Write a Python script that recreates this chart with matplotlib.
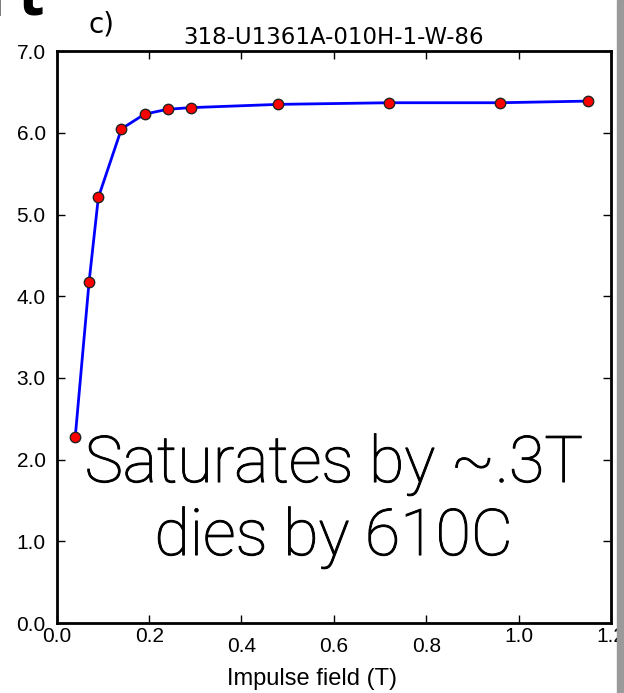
import matplotlib
matplotlib.use("Agg")
import matplotlib.pyplot as plt
import matplotlib.patheffects as pe
from matplotlib.patches import Rectangle

# impulse field (T) and remanence values
field = [0.04, 0.07, 0.09, 0.14, 0.19, 0.24, 0.29, 0.48, 0.72, 0.96, 1.15]
moment = [2.28, 4.18, 5.21, 6.05, 6.23, 6.29, 6.31, 6.35, 6.37, 6.37, 6.39]
x_ticks = [0.0, 0.2, 0.4, 0.6, 0.8, 1.0, 1.2]
y_ticks = [0.0, 1.0, 2.0, 3.0, 4.0, 5.0, 6.0, 7.0]

fig = plt.figure(figsize=(6.24, 6.93), dpi=100)
ax = fig.add_axes([0.091, 0.101, 0.888, 0.825])

ax.plot(field, moment, color='blue', lw=2, marker='o', ms=7.5,
        mfc='red', mec='#222222', mew=1, zorder=3)

ax.set_xlim(0, 1.2)
ax.set_ylim(0, 7)
ax.set_xticks(x_ticks)
ax.set_yticks(y_ticks)
ax.set_xticklabels(['%.1f' % v for v in x_ticks], family='Liberation Sans', fontsize=15)
ax.set_yticklabels(['%.1f' % v for v in y_ticks], family='Liberation Sans', fontsize=15)
ax.tick_params(direction='in', top=True, right=True, length=6, width=1)
# staggered labels like the original
pads = [3, 3, 10, 10, 10, 3, 3]
for tk, p in zip(ax.xaxis.get_major_ticks(), pads):
    tk.set_pad(p)
ax.tick_params(axis='y', pad=8)
for s in ax.spines.values():
    s.set_linewidth(2)

ax.set_xlabel('Impulse field (T)', family='Liberation Sans', fontsize=17)
ax.xaxis.set_label_coords(0.46, -0.078)
ax.set_title('318-U1361A-010H-1-W-86', fontsize=16.5, pad=5)

fig.text(0.163, 0.965, 'c)', fontsize=20, ha='center', va='center')
# pieces of the slide heading, cut by the top edge
fig.text(0.007, 0.977, 'n', fontsize=44, family='Open Sans', fontweight='bold',
         ha='right', va='baseline')
fig.text(0.029, 0.977, 't', fontsize=44, family='Open Sans', fontweight='bold',
         ha='left', va='baseline')

big = dict(ha='center', va='baseline', fontsize=46.5, family='Roboto',
           fontweight='light', zorder=4,
           path_effects=[pe.withStroke(linewidth=0.7, foreground='black')])
ax.text(0.6, 1.726, 'Saturates by ~.3T', **big)
ax.text(0.6, 0.832, 'dies by 610C', **big)

# grey strip on the right edge of the slide
fig.patches.append(Rectangle((0.988, 0), 0.012, 1, transform=fig.transFigure,
                             color='#9a9a9a', zorder=0))

fig.savefig('out.png', dpi=100)
